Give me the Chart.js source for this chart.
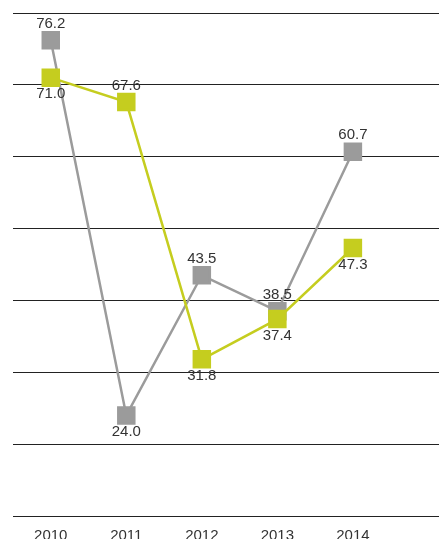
<!DOCTYPE html>
<html>
<head>
<meta charset="utf-8">
<script src="https://cdn.jsdelivr.net/npm/chart.js@4/dist/chart.umd.min.js"></script>
<style>
  html, body { margin: 0; padding: 0; background: #fff; overflow: hidden; }
  #wrap { position: relative; width: 439px; height: 548px; }
</style>
</head>
<body>
<div id="wrap"><canvas id="chart"></canvas></div>
<script>
const years = [2010, 2011, 2012, 2013, 2014]
const grey = [76.2, 24.0, 43.5, 38.5, 60.7]
const green = [71.0, 67.6, 31.8, 37.4, 47.3]
// label above (-1) or below (+1) each point
const greyPos = [-1, 1, -1, -1, -1]
const greenPos = [1, -1, 1, 1, 1]

const GREY = '#9b9b9b'
const GREEN = '#c5cd1f'
const FONT = '"Liberation Sans", Arial, Helvetica, sans-serif'

const valueLabels = {
  id: 'valueLabels',
  afterDatasetsDraw(chart) {
    const ctx = chart.ctx
    ctx.save()
    ctx.font = '15px ' + FONT
    ctx.fillStyle = '#333'
    ctx.textAlign = 'center'
    ctx.textBaseline = 'middle'
    chart.data.datasets.forEach((ds, i) => {
      const meta = chart.getDatasetMeta(i)
      meta.data.forEach((pt, j) => {
        ctx.fillText(ds.data[j].y.toFixed(1), pt.x, pt.y + ds.labelPos[j] * 16.5)
      })
    })
    ctx.restore()
  }
}

new Chart(document.getElementById('chart'), {
  type: 'line',
  data: {
    datasets: [
      {
        label: 'green',
        data: years.map((x, i) => ({ x, y: green[i] })),
        labelPos: greenPos,
        borderColor: GREEN, backgroundColor: GREEN,
        borderWidth: 2.5, pointStyle: 'rect', pointRadius: 11.3,
        pointHoverRadius: 11.3, tension: 0,
      },
      {
        label: 'grey',
        data: years.map((x, i) => ({ x, y: grey[i] })),
        labelPos: greyPos,
        borderColor: GREY, backgroundColor: GREY,
        borderWidth: 2.5, pointStyle: 'rect', pointRadius: 11.3,
        pointHoverRadius: 11.3, tension: 0,
      },
    ],
  },
  options: {
    responsive: true, maintainAspectRatio: false, animation: false,
    layout: { autoPadding: false, padding: { top: 13, left: 13, right: 0, bottom: 0 } },
    plugins: { legend: { display: false }, tooltip: { enabled: false } },
    scales: {
      x: {
        type: 'linear', min: 2009.5, max: 2015.14,
        grid: { display: false }, border: { display: false },
        afterBuildTicks: axis => { axis.ticks = years.map(v => ({ value: v })) },
        afterFit: axis => { axis.paddingLeft = 0; axis.paddingRight = 0 },
        ticks: { color: '#333', font: { family: FONT, size: 15 }, padding: 3, callback: v => String(v) },
      },
      y: {
        min: 10, max: 80,
        ticks: { display: false, stepSize: 10 },
        grid: { color: '#222', lineWidth: 1, drawTicks: false },
        border: { display: false },
      },
    },
  },
  plugins: [valueLabels],
})
</script>
</body>
</html>
